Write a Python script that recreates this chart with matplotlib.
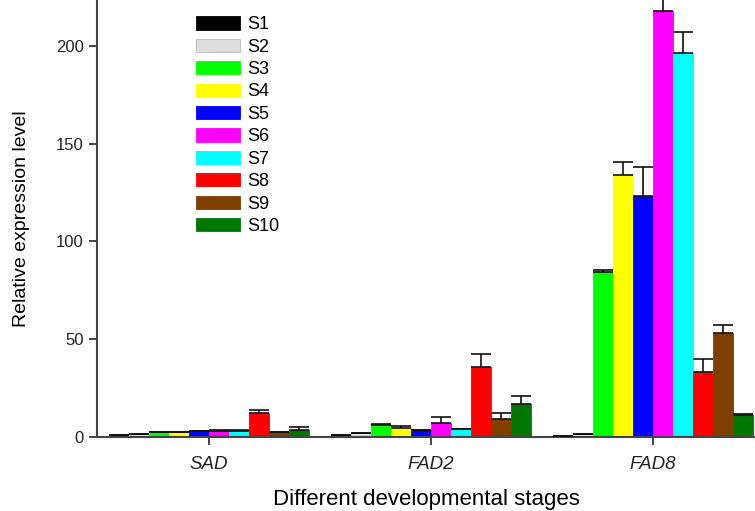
import matplotlib
matplotlib.use("Agg")
import matplotlib.pyplot as plt
import numpy as np

plt.rcParams['font.family'] = ['Liberation Sans', 'DejaVu Sans']

genes = ["SAD", "FAD2", "FAD8"]
stages = ["S1", "S2", "S3", "S4", "S5", "S6", "S7", "S8", "S9", "S10"]
colors = ["#000000", "#dddddd", "#00ff00", "#ffff00", "#0000ff",
          "#ff00ff", "#00ffff", "#ff0000", "#7f3f00", "#007800"]

# values per stage: [SAD, FAD2, FAD8]
S1 = [0.8, 0.8, 0.6]
S2 = [1.5, 2.0, 1.5]
S3 = [2.5, 6.3, 84.4]
S4 = [2.5, 4.8, 134.2]
S5 = [3.0, 3.4, 123.3]
S6 = [3.0, 7.2, 218.1]
S7 = [3.2, 3.9, 196.3]
S8 = [12.3, 35.9, 33.4]
S9 = [2.4, 9.0, 53.2]
S10 = [3.7, 16.9, 11.4]
values = [S1, S2, S3, S4, S5, S6, S7, S8, S9, S10]

# upper error bars
E1 = [0.1, 0.1, 0.1]
E2 = [0.2, 0.2, 0.2]
E3 = [0.3, 0.4, 1.0]
E4 = [0.3, 0.6, 6.3]
E5 = [0.3, 0.3, 14.8]
E6 = [0.4, 2.8, 8.0]
E7 = [0.3, 0.4, 10.7]
E8 = [1.3, 6.7, 6.5]
E9 = [0.1, 3.3, 3.9]
E10 = [1.2, 4.2, 0.5]
errors = [E1, E2, E3, E4, E5, E6, E7, E8, E9, E10]

fig = plt.figure(figsize=(7.55, 5.11), dpi=100)
ax = fig.add_axes([97/755, 74/511, 1 - 97/755, 1 - 74/511])

w = 0.09
x = np.arange(len(genes))
for i, (st, c, v, e) in enumerate(zip(stages, colors, values, errors)):
    pos = x + (i - 4.5) * w
    ec = "#bbbbbb" if st == "S2" else c
    ax.bar(pos, v, width=w, color=c, edgecolor=ec, linewidth=0.6, label=st, zorder=2)
    ax.errorbar(pos, v, yerr=[np.zeros(len(v)), e], fmt='none', ecolor='#111111',
                elinewidth=1.2, capsize=7, capthick=1.2, zorder=3)

ax.set_xlim(-0.505, 2.46)
ax.set_ylim(0, 223.5)
ax.set_yticks([0, 50, 100, 150, 200])
ax.set_xticks(x)
ax.set_xticklabels(genes, fontstyle='italic', fontsize=13.5)
ax.tick_params(axis='y', labelsize=12, direction='out', length=6, width=1.2, colors='#222222')
ax.tick_params(axis='x', direction='out', length=6, width=1.2, pad=8, colors='#222222')
for s in ['top', 'right']:
    ax.spines[s].set_visible(False)
for s in ['left', 'bottom']:
    ax.spines[s].set_linewidth(1.5)
    ax.spines[s].set_color('#444444')

ax.set_ylabel("Relative expression level", fontsize=14, labelpad=19)
ax.set_xlabel("Different developmental stages", fontsize=16, labelpad=11)

leg = ax.legend(loc='upper left', bbox_to_anchor=(189/755, 1 - 9/511),
                bbox_transform=fig.transFigure, frameon=False, fontsize=13,
                handlelength=2.4, handleheight=0.75, labelspacing=0.3,
                handletextpad=0.45, borderaxespad=0)

fig.savefig("out.png", dpi=100)
